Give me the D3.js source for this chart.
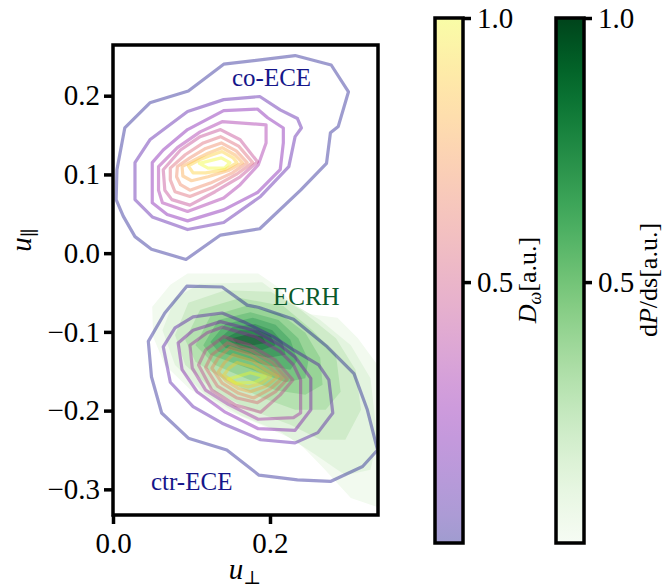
<!DOCTYPE html>
<html>
<head>
<meta charset="utf-8">
<script src="https://cdn.jsdelivr.net/npm/d3@7"></script>
<style>
  body { margin: 0; background: #fff; }
  text { font-family: "Liberation Serif", "DejaVu Serif", serif; }
</style>
</head>
<body>
<svg id="chart" width="665" height="587"></svg>
<script>
// ---- data (u_perp, u_par) ----
const xTicks = [0.0, 0.2];
const yTicks = [-0.3, -0.2, -0.1, 0.0, 0.1, 0.2];
const cbarTicks = [0.5, 1.0];

// normalised levels of the emission contours (outer -> inner)
const eceLevels = [0, 0.11, 0.22, 0.33, 0.44, 0.56, 0.67, 0.78, 0.89, 1.0];
// normalised levels of the ECRH filled contours (outer -> inner)
const ecrhLevels = [0.05, 0.15, 0.25, 0.35, 0.45, 0.55, 0.65, 0.75, 0.85, 0.95];

const coEce = [
  [[0.141,0.240],[0.232,0.251],[0.278,0.239],[0.300,0.205],[0.287,0.161],[0.277,0.153],[0.272,0.114],[0.239,0.080],[0.187,0.031],[0.137,0.023],[0.093,-0.008],[0.049,0.005],[0.028,0.021],[0.013,0.047],[0.004,0.068],[0.005,0.106],[0.015,0.159],[0.047,0.191],[0.096,0.206]],
  [[0.141,0.195],[0.187,0.199],[0.213,0.182],[0.235,0.171],[0.240,0.159],[0.232,0.148],[0.224,0.110],[0.188,0.072],[0.141,0.039],[0.095,0.030],[0.050,0.046],[0.028,0.068],[0.028,0.115],[0.047,0.144],[0.095,0.180]],
  [[0.141,0.181],[0.184,0.183],[0.197,0.172],[0.217,0.159],[0.217,0.140],[0.213,0.106],[0.184,0.077],[0.141,0.055],[0.095,0.041],[0.069,0.049],[0.050,0.064],[0.050,0.115],[0.064,0.131],[0.095,0.157]],
  [[0.139,0.167],[0.195,0.163],[0.195,0.140],[0.185,0.112],[0.162,0.087],[0.141,0.070],[0.095,0.053],[0.063,0.064],[0.058,0.080],[0.058,0.110],[0.082,0.134],[0.111,0.154]],
  [[0.137,0.157],[0.162,0.144],[0.184,0.116],[0.162,0.097],[0.130,0.078],[0.098,0.061],[0.075,0.068],[0.066,0.080],[0.064,0.106],[0.086,0.131],[0.111,0.148]],
  [[0.137,0.148],[0.160,0.136],[0.178,0.115],[0.157,0.100],[0.126,0.083],[0.098,0.072],[0.079,0.078],[0.073,0.093],[0.073,0.108],[0.092,0.125],[0.115,0.140]],
  [[0.138,0.140],[0.157,0.130],[0.171,0.115],[0.152,0.102],[0.124,0.089],[0.098,0.080],[0.086,0.087],[0.081,0.097],[0.082,0.110],[0.098,0.121],[0.118,0.133]],
  [[0.139,0.134],[0.155,0.125],[0.165,0.115],[0.147,0.105],[0.121,0.097],[0.100,0.092],[0.089,0.098],[0.088,0.110],[0.105,0.119],[0.121,0.127]],
  [[0.139,0.129],[0.153,0.121],[0.158,0.115],[0.143,0.106],[0.118,0.102],[0.102,0.102],[0.096,0.111],[0.111,0.119],[0.124,0.124]],
  [[0.110,0.114],[0.138,0.121],[0.149,0.115],[0.142,0.108],[0.121,0.108]]
];

const ctrEce = [
  [[0.045,-0.112],[0.066,-0.076],[0.094,-0.042],[0.139,-0.043],[0.171,-0.066],[0.186,-0.069],[0.230,-0.084],[0.273,-0.119],[0.307,-0.153],[0.324,-0.199],[0.337,-0.250],[0.318,-0.271],[0.277,-0.290],[0.235,-0.288],[0.186,-0.282],[0.145,-0.250],[0.096,-0.235],[0.062,-0.203],[0.049,-0.157]],
  [[0.064,-0.119],[0.079,-0.095],[0.102,-0.081],[0.139,-0.076],[0.166,-0.087],[0.204,-0.106],[0.230,-0.123],[0.262,-0.142],[0.275,-0.161],[0.280,-0.203],[0.261,-0.228],[0.232,-0.241],[0.188,-0.237],[0.139,-0.216],[0.102,-0.195],[0.073,-0.164]],
  [[0.083,-0.114],[0.102,-0.098],[0.137,-0.087],[0.179,-0.098],[0.213,-0.117],[0.232,-0.132],[0.252,-0.159],[0.252,-0.199],[0.232,-0.225],[0.185,-0.223],[0.143,-0.202],[0.107,-0.176],[0.088,-0.148]],
  [[0.098,-0.117],[0.120,-0.101],[0.139,-0.094],[0.181,-0.106],[0.213,-0.125],[0.230,-0.142],[0.239,-0.161],[0.239,-0.203],[0.230,-0.209],[0.185,-0.211],[0.147,-0.192],[0.118,-0.174],[0.101,-0.146]],
  [[0.109,-0.142],[0.118,-0.123],[0.141,-0.106],[0.175,-0.117],[0.207,-0.136],[0.229,-0.161],[0.213,-0.180],[0.188,-0.202],[0.156,-0.193],[0.126,-0.174]],
  [[0.118,-0.145],[0.126,-0.129],[0.146,-0.114],[0.175,-0.123],[0.203,-0.139],[0.222,-0.160],[0.207,-0.176],[0.184,-0.190],[0.158,-0.184],[0.133,-0.169]],
  [[0.126,-0.146],[0.134,-0.133],[0.149,-0.120],[0.175,-0.129],[0.198,-0.143],[0.216,-0.159],[0.201,-0.172],[0.179,-0.184],[0.160,-0.178],[0.139,-0.165]],
  [[0.134,-0.151],[0.142,-0.139],[0.153,-0.129],[0.178,-0.137],[0.194,-0.148],[0.210,-0.157],[0.195,-0.169],[0.175,-0.176],[0.160,-0.172],[0.144,-0.162]],
  [[0.141,-0.155],[0.148,-0.146],[0.158,-0.139],[0.179,-0.145],[0.201,-0.157],[0.190,-0.165],[0.172,-0.170],[0.158,-0.166]],
  [[0.147,-0.160],[0.175,-0.152],[0.194,-0.157],[0.181,-0.164],[0.156,-0.165]]
];

const ecrh = [
  [[0.050,-0.068],[0.073,-0.040],[0.095,-0.026],[0.185,-0.026],[0.210,-0.043],[0.239,-0.076],[0.286,-0.082],[0.312,-0.108],[0.337,-0.142],[0.356,-0.142],[0.356,-0.329],[0.303,-0.311],[0.268,-0.273],[0.235,-0.239],[0.188,-0.218],[0.143,-0.199],[0.098,-0.173],[0.066,-0.142],[0.051,-0.106]],
  [[0.063,-0.098],[0.079,-0.057],[0.111,-0.039],[0.190,-0.037],[0.220,-0.059],[0.264,-0.085],[0.303,-0.117],[0.328,-0.159],[0.337,-0.237],[0.328,-0.275],[0.296,-0.282],[0.258,-0.256],[0.213,-0.227],[0.162,-0.206],[0.118,-0.180],[0.079,-0.142]],
  [[0.079,-0.104],[0.096,-0.063],[0.143,-0.047],[0.201,-0.049],[0.239,-0.072],[0.284,-0.108],[0.309,-0.148],[0.316,-0.199],[0.296,-0.237],[0.264,-0.237],[0.226,-0.218],[0.175,-0.199],[0.130,-0.176],[0.092,-0.142]],
  [[0.092,-0.110],[0.111,-0.072],[0.162,-0.057],[0.217,-0.067],[0.254,-0.098],[0.284,-0.129],[0.290,-0.176],[0.271,-0.199],[0.232,-0.199],[0.188,-0.183],[0.143,-0.161],[0.105,-0.138]],
  [[0.105,-0.117],[0.124,-0.080],[0.169,-0.067],[0.213,-0.077],[0.245,-0.101],[0.264,-0.133],[0.267,-0.167],[0.245,-0.180],[0.207,-0.174],[0.169,-0.159],[0.130,-0.142]],
  [[0.115,-0.117],[0.134,-0.085],[0.175,-0.075],[0.211,-0.085],[0.236,-0.108],[0.249,-0.136],[0.245,-0.159],[0.220,-0.164],[0.185,-0.151],[0.149,-0.138],[0.124,-0.129]],
  [[0.124,-0.113],[0.143,-0.090],[0.178,-0.082],[0.207,-0.091],[0.226,-0.110],[0.235,-0.136],[0.226,-0.148],[0.194,-0.142],[0.160,-0.133],[0.134,-0.125]],
  [[0.134,-0.110],[0.152,-0.094],[0.181,-0.090],[0.203,-0.098],[0.216,-0.113],[0.220,-0.129],[0.198,-0.133],[0.169,-0.127],[0.143,-0.120]],
  [[0.143,-0.108],[0.162,-0.098],[0.185,-0.098],[0.201,-0.105],[0.207,-0.117],[0.190,-0.123],[0.162,-0.120]],
  [[0.152,-0.108],[0.172,-0.103],[0.190,-0.106],[0.195,-0.114],[0.178,-0.117],[0.157,-0.114]]
];

// ---- layout ----
const svg = d3.select("#chart");
const plot = { left: 113, right: 378, top: 45, bottom: 515 };

const x = d3.scaleLinear().domain([0, 0.3376]).range([plot.left, plot.right]);
const y = d3.scaleLinear().domain([-0.3326, 0.2644]).range([plot.bottom, plot.top]);

const greenFill = t => d3.interpolateRgb("#ffffff", d3.interpolateGreens(t))(0.85);

svg.append("clipPath").attr("id", "clip")
  .append("rect")
  .attr("x", plot.left).attr("y", plot.top)
  .attr("width", plot.right - plot.left).attr("height", plot.bottom - plot.top);

const line = d3.line().x(d => x(d[0])).y(d => y(d[1])).curve(d3.curveLinearClosed);

const g = svg.append("g").attr("clip-path", "url(#clip)");

// ECRH filled contours
g.selectAll(".ecrh")
  .data(ecrh)
  .enter().append("path")
  .attr("class", "ecrh")
  .attr("d", line)
  .attr("fill", (d, i) => greenFill(ecrhLevels[i]))
  .attr("stroke", "none");

// emission contours
[coEce, ctrEce].forEach((set, k) => {
  g.selectAll(".ece" + k)
    .data(set)
    .enter().append("path")
    .attr("class", "ece" + k)
    .attr("d", line)
    .attr("fill", "none")
    .attr("stroke", (d, i) => d3.interpolatePlasma(eceLevels[i]))
    .attr("stroke-opacity", 0.4)
    .attr("stroke-width", 3.2)
    .attr("stroke-linejoin", "round");
});

// annotations
svg.append("text").attr("x", 232).attr("y", 86).attr("font-size", 25)
  .attr("fill", "#16168a").text("co-ECE");
svg.append("text").attr("x", 273).attr("y", 305).attr("font-size", 25)
  .attr("fill", "#0b5a2b").text("ECRH");
svg.append("text").attr("x", 151).attr("y", 490).attr("font-size", 25)
  .attr("fill", "#16168a").text("ctr-ECE");

// frame
svg.append("rect")
  .attr("x", plot.left).attr("y", plot.top)
  .attr("width", plot.right - plot.left).attr("height", plot.bottom - plot.top)
  .attr("fill", "none").attr("stroke", "#000").attr("stroke-width", 3.5);

// axes
const xAxis = svg.append("g")
  .attr("transform", `translate(0,${plot.bottom})`)
  .call(d3.axisBottom(x).tickValues(xTicks).tickFormat(d3.format(".1f")).tickSize(9).tickPadding(8));
const yAxis = svg.append("g")
  .attr("transform", `translate(${plot.left},0)`)
  .call(d3.axisLeft(y).tickValues(yTicks).tickFormat(d => d3.format(".1f")(d).replace("-", "\u2212")).tickSize(9).tickPadding(4));

[xAxis, yAxis].forEach(a => {
  a.select(".domain").remove();
  a.selectAll(".tick line").attr("stroke", "#000").attr("stroke-width", 3.5);
  a.selectAll(".tick text").attr("font-size", 29).attr("fill", "#000")
    .style("font-family", "'Liberation Serif', serif");
});

svg.append("text").attr("x", 245).attr("y", 579).attr("text-anchor", "middle").attr("font-size", 29)
  .html('<tspan font-style="italic">u</tspan><tspan font-size="19" dy="5" font-family="DejaVu Serif">\u22A5</tspan>');
svg.append("text").attr("transform", "translate(31,240) rotate(-90)").attr("text-anchor", "middle").attr("font-size", 29)
  .html('<tspan font-style="italic">u</tspan><tspan font-size="19" dy="5" font-family="DejaVu Serif">\u2225</tspan>');

// colorbars
const cb = d3.scaleLinear().domain([0.006, 1]).range([543, 18]);
const bars = [
  { x0: 435, id: "cbPlasma", color: t => d3.interpolatePlasma(t), opacity: 0.4,
    label: '<tspan font-style="italic">D</tspan><tspan font-style="italic" font-size="18" dy="5">\u03C9</tspan><tspan dy="-5">[a.u.]</tspan>' },
  { x0: 556, id: "cbGreens", color: t => d3.interpolateGreens(t), opacity: 1,
    label: 'd<tspan font-style="italic">P</tspan>/ds[a.u.]' }
];
const defs = svg.append("defs");
bars.forEach(b => {
  const grad = defs.append("linearGradient").attr("id", b.id)
    .attr("x1", 0).attr("y1", 1).attr("x2", 0).attr("y2", 0);
  d3.range(0, 1.0001, 0.05).forEach(t => {
    grad.append("stop").attr("offset", t)
      .attr("stop-color", b.color(cb.domain()[0] + t * (1 - cb.domain()[0])))
      .attr("stop-opacity", b.opacity);
  });
  const w = 28;
  svg.append("rect").attr("x", b.x0).attr("y", cb(1)).attr("width", w).attr("height", cb(cb.domain()[0]) - cb(1))
    .attr("fill", `url(#${b.id})`).attr("stroke", "#000").attr("stroke-width", 3.5);
  const ax = svg.append("g").attr("transform", `translate(${b.x0 + w},0)`)
    .call(d3.axisRight(cb).tickValues(cbarTicks).tickFormat(d3.format(".1f")).tickSize(8).tickPadding(6));
  ax.select(".domain").remove();
  ax.selectAll(".tick line").attr("stroke", "#000").attr("stroke-width", 3.5);
  ax.selectAll(".tick text").attr("font-size", 29).attr("fill", "#000")
    .style("font-family", "'Liberation Serif', serif");
  svg.append("text").attr("transform", `translate(${b.x0 + w + 73},280) rotate(-90)`)
    .attr("text-anchor", "middle").attr("font-size", 26).html(b.label);
});
</script>
</body>
</html>
